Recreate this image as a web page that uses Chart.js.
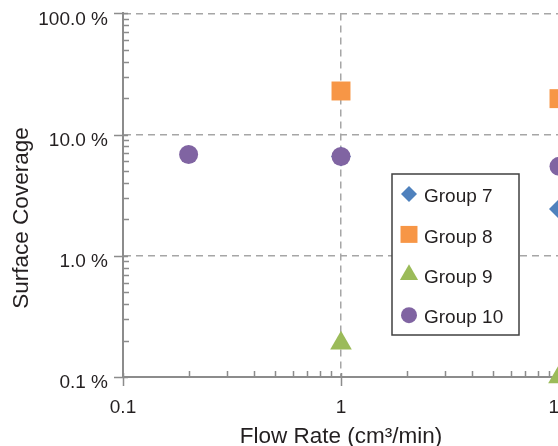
<!DOCTYPE html>
<html>
<head>
<meta charset="utf-8">
<script src="https://cdn.jsdelivr.net/npm/chart.js@4.4.1/dist/chart.umd.min.js"></script>
<style>
  html, body { margin: 0; padding: 0; background: #fff; overflow: hidden; width: 558px; height: 446px; }
  #wrap { position: absolute; left: 0; top: 0; width: 620px; height: 446px; }
</style>
</head>
<body>
<div id="wrap"><canvas id="c" width="620" height="446"></canvas></div>
<script>
// ---- data ----
const seriesNames = ['Group 7', 'Group 8', 'Group 9', 'Group 10'];
const group7 = [{ x: 1, y: 6.6 }, { x: 10, y: 2.43 }];
const group8 = [{ x: 1, y: 22.9 }, { x: 10, y: 19.8 }];
const group9 = [{ x: 1, y: 0.19 }, { x: 10, y: 0.1 }];
const group10 = [{ x: 0.2, y: 6.86 }, { x: 1, y: 6.6 }, { x: 10, y: 5.47 }];

const xMajorTicks = [0.1, 1, 10];
const xTickLabels = ['0.1', '1', '10'];
const yMajorTicks = [0.1, 1, 10, 100];
const yTickLabels = ['0.1 %', '1.0 %', '10.0 %', '100.0 %'];

const xTitle = 'Flow Rate (cm\u00B3/min)';
const yTitle = 'Surface Coverage';

// ---- styling ----
const FONT = 'Liberation Sans, Arial, Helvetica, sans-serif';
const TEXT = '#231F20';
const AXIS = '#8C8C8C';
const GRID = '#A6A6A6';
const colors = ['#4F81BD', '#F79646', '#9BBB59', '#8064A2'];
const styles = ['rectRot', 'rect', 'triangle', 'circle'];
const plotRadius = [10, 13.4, 12.5, 9.5];
const legendRadius = [8, 12, 10.5, 8];

// log ticks: every integer multiple inside each decade
function decadeTicks(majors) {
  const out = [];
  for (let i = 0; i < majors.length - 1; i++) {
    for (let k = 1; k < 10; k++) out.push(+(majors[i] * k).toPrecision(6));
  }
  out.push(majors[majors.length - 1]);
  return out;
}
const isMajor = (v, majors) => majors.some(m => Math.abs(m - v) / m < 1e-6);
const labelFor = (v, majors, labels) => {
  const i = majors.findIndex(m => Math.abs(m - v) / m < 1e-6);
  return i >= 0 ? labels[i] : '';
};

// tick marks along both axes (major ticks cross the axis, minor ticks point inward)
const tickMarks = {
  id: 'tickMarks',
  afterDraw(chart) {
    const { ctx, chartArea } = chart;
    const xs = chart.scales.x, ys = chart.scales.y;
    ctx.save();
    ctx.strokeStyle = AXIS;
    ctx.lineWidth = 1.5;
    ctx.beginPath();
    xs.ticks.forEach(t => {
      const px = Math.round(xs.getPixelForValue(t.value)) + 0.5;
      if (px > chart.width) return;
      if (isMajor(t.value, xMajorTicks)) {
        ctx.moveTo(px, chartArea.bottom - 4); ctx.lineTo(px, chartArea.bottom + 9);
      } else {
        ctx.moveTo(px, chartArea.bottom); ctx.lineTo(px, chartArea.bottom - 6);
      }
    });
    ys.ticks.forEach(t => {
      const py = Math.round(ys.getPixelForValue(t.value)) + 0.5;
      if (isMajor(t.value, yMajorTicks)) {
        ctx.moveTo(chartArea.left - 9, py); ctx.lineTo(chartArea.left + 5, py);
      } else {
        ctx.moveTo(chartArea.left, py); ctx.lineTo(chartArea.left + 6, py);
      }
    });
    ctx.stroke();
    ctx.restore();
  }
};

// vertical axis title
const yAxisTitle = {
  id: 'yAxisTitle',
  afterDraw(chart) {
    const { ctx } = chart;
    ctx.save();
    ctx.translate(22, 218);
    ctx.rotate(-Math.PI / 2);
    ctx.font = '22.5px ' + FONT;
    ctx.fillStyle = TEXT;
    ctx.textAlign = 'center';
    ctx.textBaseline = 'middle';
    ctx.fillText(yTitle, 0, 0);
    ctx.restore();
  }
};

// boxed legend inside the plot
const boxLegend = {
  id: 'boxLegend',
  afterDraw(chart) {
    const { ctx } = chart;
    const box = { left: 392, top: 174, right: 519, bottom: 335 };
    ctx.save();
    ctx.fillStyle = '#FFFFFF';
    ctx.fillRect(box.left, box.top, box.right - box.left, box.bottom - box.top);
    ctx.strokeStyle = '#404040';
    ctx.lineWidth = 1.5;
    ctx.strokeRect(box.left, box.top, box.right - box.left, box.bottom - box.top);
    ctx.font = '19px ' + FONT;
    ctx.textAlign = 'left';
    ctx.textBaseline = 'middle';
    chart.data.datasets.forEach((ds, i) => {
      const y = 194 + i * 40.4;
      ctx.fillStyle = ds.backgroundColor;
      Chart.helpers.drawPoint(ctx, {
        pointStyle: ds.pointStyle, radius: legendRadius[i], rotation: 0, borderWidth: 0
      }, 409, y);
      ctx.fillStyle = TEXT;
      ctx.fillText(ds.label, 424, y + 3);
    });
    ctx.restore();
  }
};

const seriesData = [group7, group8, group9, group10];
const datasets = seriesNames.map((name, i) => ({
  label: name,
  data: seriesData[i],
  backgroundColor: colors[i],
  borderColor: colors[i],
  borderWidth: 0,
  pointStyle: styles[i],
  pointRadius: plotRadius[i],
  pointHoverRadius: plotRadius[i],
  showLine: false,
  clip: false,
  order: 3 - i
}));

new Chart(document.getElementById('c'), {
  type: 'scatter',
  data: { datasets },
  plugins: [tickMarks, yAxisTitle, boxLegend],
  options: {
    responsive: false,
    animation: false,
    devicePixelRatio: 1,
    layout: { padding: { left: 0, top: 10, right: 61, bottom: 0 } },
    plugins: { legend: { display: false }, tooltip: { enabled: false } },
    scales: {
      x: {
        type: 'logarithmic',
        position: 'bottom',
        min: 0.1, max: 10,
        afterBuildTicks: s => { s.ticks = decadeTicks(xMajorTicks).map(v => ({ value: v })); },
        afterFit: s => { s.height = 69; s.paddingLeft = 0; s.paddingRight = 0; },
        grid: {
          drawTicks: false,
          lineWidth: 1.5,
          color: c => (c.tick && isMajor(c.tick.value, xMajorTicks)) ? GRID : 'rgba(0,0,0,0)'
        },
        border: { display: true, color: AXIS, width: 2, dash: [7, 5] },
        ticks: {
          autoSkip: false, maxRotation: 0, minRotation: 0,
          padding: 19,
          color: TEXT,
          font: { family: FONT, size: 19 },
          callback: v => labelFor(v, xMajorTicks, xTickLabels)
        },
        title: {
          display: true, text: xTitle, color: TEXT,
          font: { family: FONT, size: 22.5, lineHeight: 0.8 },
          padding: { top: 0, bottom: 0 }
        }
      },
      y: {
        type: 'logarithmic',
        position: 'left',
        min: 0.1, max: 100,
        afterBuildTicks: s => { s.ticks = decadeTicks(yMajorTicks).map(v => ({ value: v })); },
        afterFit: s => { s.width = 123; s.paddingTop = 0; s.paddingBottom = 0; },
        grid: {
          drawTicks: false,
          lineWidth: 1.5,
          color: c => (c.tick && isMajor(c.tick.value, yMajorTicks)) ? GRID : 'rgba(0,0,0,0)'
        },
        border: { display: true, color: AXIS, width: 2, dash: [7, 5] },
        ticks: {
          autoSkip: false,
          padding: 15,
          labelOffset: 6,
          color: TEXT,
          font: { family: FONT, size: 19, lineHeight: 0.9 },
          callback: v => labelFor(v, yMajorTicks, yTickLabels)
        }
      }
    }
  }
});
</script>
</body>
</html>
